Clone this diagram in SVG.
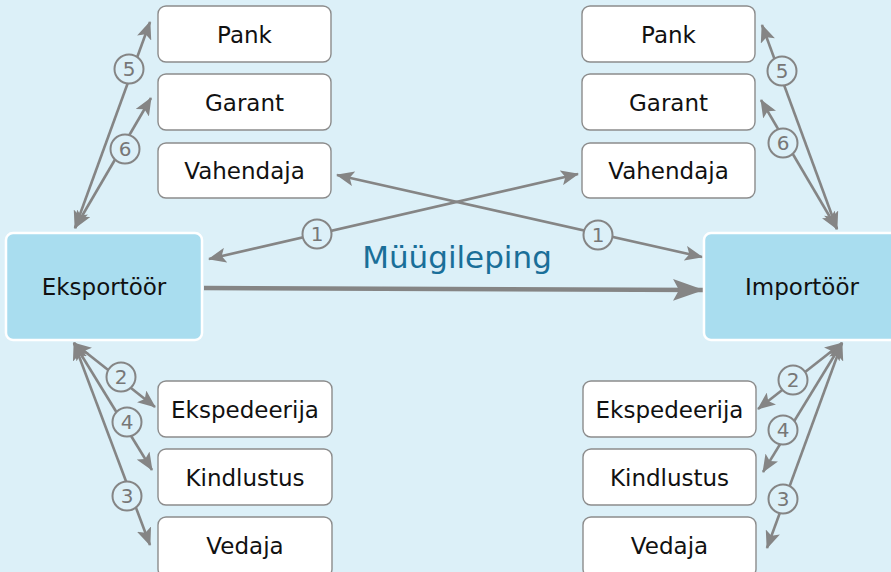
<svg xmlns="http://www.w3.org/2000/svg" width="891" height="572" viewBox="0 0 891 572">
<defs>
<style>
.bg{fill:#dcf0f8}
.box{fill:#ffffff;stroke:#8c8c8c;stroke-width:1.4}
.main{fill:#a9ddef;stroke:#ffffff;stroke-width:2.5}
.lbl{font-family:"DejaVu Sans",Verdana,sans-serif;font-size:23px;fill:#111111;text-anchor:middle}
.ln{stroke:#858585;stroke-width:2.6;fill:none;marker-start:url(#ah);marker-end:url(#ah)}
.num circle{fill:#dcf0f8;stroke:#858585;stroke-width:2}
.num text{font-family:"DejaVu Sans",Verdana,sans-serif;font-size:20px;fill:#777777;text-anchor:middle}
</style>
<marker id="ah" markerUnits="userSpaceOnUse" markerWidth="19" markerHeight="15" refX="17" refY="7.5" orient="auto-start-reverse" viewBox="0 0 19 15">
<path d="M0,0 L18,7.5 L0,15 L4,7.5 z" fill="#858585"/>
</marker>
<marker id="ahb" markerUnits="userSpaceOnUse" markerWidth="32" markerHeight="24" refX="30" refY="12" orient="auto" viewBox="0 0 32 24">
<path d="M0,1 L31,12 L0,23 L6,12 z" fill="#858585"/>
</marker>
</defs>
<rect class="bg" x="0" y="0" width="891" height="572"/>

<g id="connectors">
<line class="ln" x1="75" y1="228" x2="150" y2="22"/>
<line class="ln" x1="75" y1="228" x2="151" y2="98"/>
<line class="ln" x1="837" y1="229" x2="762" y2="25"/>
<line class="ln" x1="837" y1="229" x2="761" y2="100"/>
<line class="ln" x1="74" y1="343" x2="155" y2="407"/>
<line class="ln" x1="74" y1="343" x2="152" y2="470"/>
<line class="ln" x1="74" y1="343" x2="150" y2="545"/>
<line class="ln" x1="842" y1="343" x2="758" y2="409"/>
<line class="ln" x1="842" y1="343" x2="763" y2="472"/>
<line class="ln" x1="842" y1="343" x2="767" y2="548"/>
<line class="ln" x1="578" y1="174" x2="209" y2="259"/>
<line class="ln" x1="337" y1="175" x2="702" y2="257"/>
<line x1="204" y1="288" x2="703" y2="290" stroke="#858585" stroke-width="4.5" marker-end="url(#ahb)"/>
</g>

<g id="step-labels" class="num">
<g><circle cx="129" cy="69" r="14.5"/><text x="129" y="76">5</text></g>
<g><circle cx="125" cy="149" r="14.5"/><text x="125" y="156">6</text></g>
<g><circle cx="121" cy="377" r="14.5"/><text x="121" y="384">2</text></g>
<g><circle cx="127" cy="422" r="14.5"/><text x="127" y="429">4</text></g>
<g><circle cx="127" cy="496" r="14.5"/><text x="127" y="503">3</text></g>
<g><circle cx="782" cy="71" r="14.5"/><text x="782" y="78">5</text></g>
<g><circle cx="783" cy="143" r="14.5"/><text x="783" y="150">6</text></g>
<g><circle cx="793" cy="380" r="14.5"/><text x="793" y="387">2</text></g>
<g><circle cx="783" cy="430" r="14.5"/><text x="783" y="437">4</text></g>
<g><circle cx="783" cy="499" r="14.5"/><text x="783" y="506">3</text></g>
<g><circle cx="317" cy="234" r="14.5"/><text x="317" y="241">1</text></g>
<g><circle cx="598" cy="235" r="14.5"/><text x="598" y="242">1</text></g>
</g>

<text x="457" y="268" font-family="'DejaVu Sans',Verdana,sans-serif" font-size="31" fill="#1a6f99" text-anchor="middle">Müügileping</text>

<g id="eksportoor"><rect class="main" x="6" y="233" width="196" height="107" rx="7"/><text class="lbl" x="104" y="295">Eksportöör</text></g>
<g id="importoor"><rect class="main" x="704" y="233" width="196" height="107" rx="7"/><text class="lbl" x="802" y="295">Importöör</text></g>

<g id="pank-l"><rect class="box" x="158" y="6" width="173" height="56" rx="8"/><text class="lbl" x="244.5" y="43">Pank</text></g>
<g id="garant-l"><rect class="box" x="158" y="74" width="173" height="56" rx="8"/><text class="lbl" x="244.5" y="111">Garant</text></g>
<g id="vahendaja-l"><rect class="box" x="158" y="143" width="173" height="55" rx="8"/><text class="lbl" x="244.5" y="179">Vahendaja</text></g>

<g id="pank-r"><rect class="box" x="582" y="6" width="173" height="56" rx="8"/><text class="lbl" x="668.5" y="43">Pank</text></g>
<g id="garant-r"><rect class="box" x="582" y="74" width="173" height="56" rx="8"/><text class="lbl" x="668.5" y="111">Garant</text></g>
<g id="vahendaja-r"><rect class="box" x="582" y="143" width="173" height="55" rx="8"/><text class="lbl" x="668.5" y="179">Vahendaja</text></g>

<g id="ekspedeerija-l"><rect class="box" x="158" y="381" width="174" height="56" rx="8"/><text class="lbl" x="245" y="418">Ekspedeerija</text></g>
<g id="kindlustus-l"><rect class="box" x="158" y="449" width="174" height="56" rx="8"/><text class="lbl" x="245" y="486">Kindlustus</text></g>
<g id="vedaja-l"><rect class="box" x="158" y="517" width="174" height="60" rx="8"/><text class="lbl" x="245" y="554">Vedaja</text></g>

<g id="ekspedeerija-r"><rect class="box" x="583" y="381" width="173" height="56" rx="8"/><text class="lbl" x="669.5" y="418">Ekspedeerija</text></g>
<g id="kindlustus-r"><rect class="box" x="583" y="449" width="173" height="56" rx="8"/><text class="lbl" x="669.5" y="486">Kindlustus</text></g>
<g id="vedaja-r"><rect class="box" x="583" y="517" width="173" height="60" rx="8"/><text class="lbl" x="669.5" y="554">Vedaja</text></g>
</svg>
